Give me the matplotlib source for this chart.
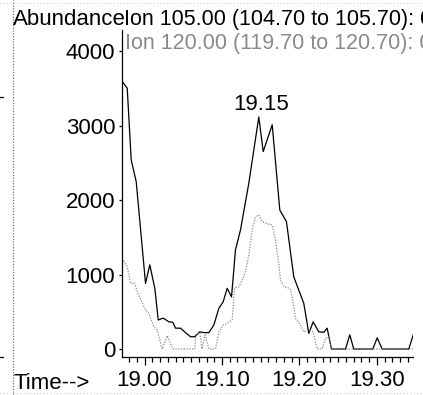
import matplotlib.pyplot as plt
import numpy as np
from matplotlib.ticker import MultipleLocator

# Ion 105 trace (solid)
t105 = [18.9712, 18.9777, 18.9828, 18.9893, 19.0013, 19.0068, 19.0133, 19.0177,
        19.0241, 19.0314, 19.0365, 19.0400, 19.0465, 19.0529, 19.0594, 19.0649,
        19.0710, 19.0774, 19.0830, 19.0894, 19.0959, 19.1015, 19.1067, 19.1123,
        19.1174, 19.1239, 19.1346, 19.1475, 19.1532, 19.1648, 19.1746, 19.1832,
        19.1926, 19.1991, 19.2055, 19.2099, 19.2120, 19.2177, 19.2249, 19.2314,
        19.2357, 19.2413, 19.2594, 19.2649, 19.2701, 19.2946, 19.3003, 19.3067,
        19.3410, 19.3475]
a105 = [3590, 3500, 2540, 2245, 880, 1130, 815, 390,
        415, 365, 360, 280, 280, 220, 165, 165,
        230, 220, 220, 320, 545, 635, 815, 700,
        1330, 1600, 2225, 3115, 2650, 3010, 1865, 1710,
        970, 790, 615, 345, 210, 365, 230, 225,
        280, 0, 0, 190, 0, 0, 150, 0,
        0, 210]

# Ion 120 trace (dotted, gray)
t120 = [18.9712, 18.9777, 18.9819, 18.9871, 18.9923, 19.0013, 19.0055, 19.0120,
        19.0164, 19.0228, 19.0293, 19.0365, 19.0649, 19.0662, 19.0716, 19.0742,
        19.0781, 19.0832, 19.0916, 19.0959, 19.1013, 19.1067, 19.1132, 19.1161,
        19.1217, 19.1261, 19.1303, 19.1346, 19.1390, 19.1432, 19.1475, 19.1519,
        19.1583, 19.1648, 19.1690, 19.1733, 19.1755, 19.1797, 19.1875, 19.1906,
        19.1948, 19.2013, 19.2055, 19.2120, 19.2177, 19.2228, 19.2293, 19.2335,
        19.2378, 19.2413, 19.3465]
a120 = [1215, 1105, 880, 885, 725, 525, 480, 300,
        255, 0, 180, 0, 0, 200, 215, 0,
        190, 0, 0, 230, 320, 345, 390, 820,
        835, 925, 1040, 1260, 1600, 1775, 1800, 1710,
        1680, 1665, 1465, 1150, 925, 835, 815, 700,
        410, 320, 230, 255, 230, 0, 0, 145,
        165, 0, 0]

peak_label = "19.15"
peak_time = 19.1475

W, H = 423, 395
fig = plt.figure(figsize=(W / 100, H / 100), dpi=100)
plt.rcParams['font.family'] = ['Liberation Sans', 'DejaVu Sans']
fs = 16

# axes box in pixel units
left, right, top, bottom = 121.5, 413, 30, 357
ax = fig.add_axes([left / W, 1 - bottom / H, (right - left) / W, (bottom - top) / H])

ax.plot(t105, a105, color='black', lw=0.9)
ax.plot(t120, a120, color='#8a8a8a', lw=0.9, ls=(0, (1, 1.2)))

ax.set_xlim(18.9703, 19.3465)
ax.set_ylim(-107, 4282)

for s in ['top', 'right']:
    ax.spines[s].set_visible(False)
for s in ['left', 'bottom']:
    ax.spines[s].set_linewidth(0.9)

ax.set_yticks([0, 1000, 2000, 3000, 4000])
ax.set_xticks([19.0, 19.1, 19.2, 19.3])
ax.set_xticklabels(['19.00', '19.10', '19.20', '19.30'])
ax.xaxis.set_minor_locator(MultipleLocator(0.01))
ax.tick_params(axis='y', direction='out', length=2.5, width=0.9, pad=2, labelsize=fs)
ax.tick_params(axis='x', which='major', direction='out', length=6, width=0.9, pad=3, labelsize=fs)
ax.tick_params(axis='x', which='minor', direction='out', length=3.5, width=0.9)

ax.text(peak_time + 0.0035, 3210, peak_label, ha='center', va='baseline', fontsize=fs)

# header texts
fig.text(13 / W, 1 - 25 / H, 'Abundance', fontsize=fs, va='baseline')
fig.text(123.5 / W, 1 - 25 / H, 'Ion 105.00 (104.70 to 105.70): 0501003.D',
         fontsize=15.5, va='baseline')
fig.text(125 / W, 1 - 48.5 / H, 'Ion 120.00 (119.70 to 120.70): 0501003.D',
         fontsize=15.5, va='baseline', color='#8a8a8a')
fig.text(13 / W, 1 - 389 / H, 'Time-->', fontsize=fs, va='baseline')

# page border fragments from the scan
fig.add_artist(plt.Line2D([12.5 / W, 12.5 / W], [0, 1], color='#555555', lw=0.8,
                          ls=(0, (1, 1.5)), transform=fig.transFigure))
fig.add_artist(plt.Line2D([0, 1], [1 - 3 / H, 1 - 3 / H], color='#aaaaaa', lw=0.6,
                          ls=(0, (1, 3)), transform=fig.transFigure))
fig.add_artist(plt.Line2D([0, 1], [1 - 393 / H, 1 - 393 / H], color='#aaaaaa', lw=0.6,
                          ls=(0, (1, 3)), transform=fig.transFigure))
for yy in [97, 357]:
    fig.add_artist(plt.Line2D([0, 3 / W], [1 - yy / H, 1 - yy / H], color='black',
                              lw=0.9, transform=fig.transFigure))

fig.savefig('out.png', dpi=100)
